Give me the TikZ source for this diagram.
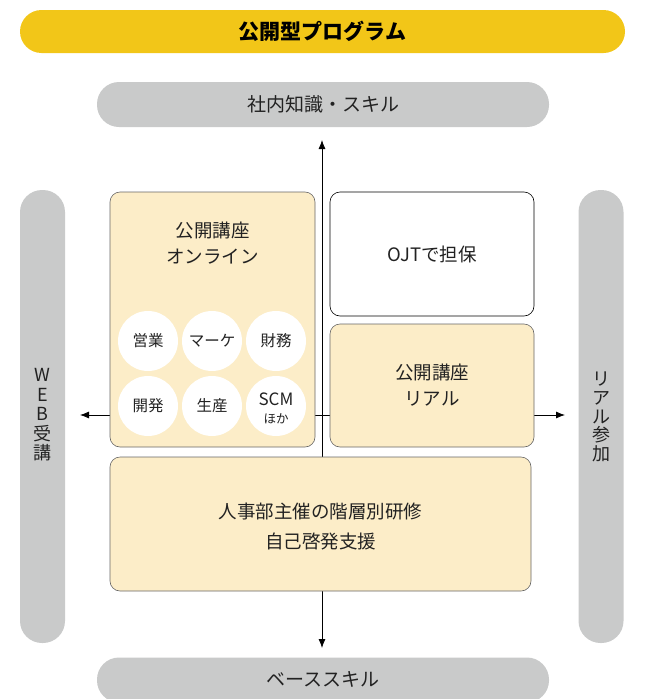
\documentclass[tikz,border=0pt]{standalone}
\usepackage{fontspec}
\setmainfont{Noto Sans CJK JP}
\usetikzlibrary{arrows.meta}
\definecolor{banner}{HTML}{F2C618}
\definecolor{pill}{HTML}{C9CACA}
\definecolor{cream}{HTML}{FCEDC8}
\definecolor{ink}{HTML}{222222}
\tikzset{
  pillbox/.style={fill=pill, draw=none, rounded corners=22pt, text=ink, font=\fontsize{19}{22}\selectfont},
  bar/.style={fill=pill, draw=none, rounded corners=22pt, minimum width=45pt, minimum height=453pt},
  panel/.style={draw=black!60, line width=0.6pt, rounded corners=10pt, text=ink, align=center, font=\fontsize{18.5}{26}\selectfont},
  chip/.style={circle, fill=white, draw=none, minimum size=60pt, inner sep=0pt, text=ink, align=center, font=\fontsize{15.5}{18}\selectfont},
  axis/.style={draw=black, line width=0.8pt, -{Latex[length=9pt,width=7pt]}},
  vlabel/.style={text=ink, align=center, inner sep=0pt, font=\fontsize{18}{19.5}\selectfont}
}
\begin{document}
\begin{tikzpicture}[x=1pt,y=-1pt]
\useasboundingbox (0,0) rectangle (672,699);
% axes
\coordinate (c) at (322,415);
\coordinate (up) at (322,140);
\coordinate (dn) at (322,648);
\coordinate (lt) at (80,415);
\coordinate (rt) at (565,415);
\draw[axis] (c) -- (up);
\draw[axis] (c) -- (dn);
\draw[axis] (c) -- (lt);
\draw[axis] (c) -- (rt);
% banner and pills
\node[fill=banner, draw=none, rounded corners=21.5pt, minimum width=605pt, minimum height=43pt, text=black, font=\fontsize{21}{24}\selectfont\bfseries] (title) at (322.5,31.5) {公開型プログラム};
\node[pillbox, minimum width=452pt, minimum height=45pt] (top) at (323,104.5) {社内知識・スキル};
\node[pillbox, minimum width=452pt, minimum height=45pt] (bottom) at (323,680) {};
\node[text=ink, font=\fontsize{19}{22}\selectfont] (bottomtxt) at (323,679) {ベーススキル};
\node[bar] (left) at (42.5,416.5) {};
\node[bar] (right) at (601,416.5) {};
\node[vlabel] (lefttxt) at (42.5,415) {W\\E\\B\\受\\講};
\node[vlabel, font=\fontsize{18}{18.8}\selectfont] (righttxt) at (601,417) {リ\\ア\\ル\\参\\加};
% panels
\node[panel, fill=cream, minimum width=205pt, minimum height=255pt] (online) at (212.5,319.5) {};
\node[text=ink, align=center, font=\fontsize{18.5}{26}\selectfont] (onlinetxt) at (212.5,243) {公開講座\\オンライン};
\node[panel, fill=white, draw=black, minimum width=204pt, minimum height=124pt] (ojt) at (432,254) {OJTで担保};
\node[panel, fill=cream, minimum width=204pt, minimum height=123pt] (real) at (432,385.5) {公開講座\\リアル};
\node[panel, fill=cream, minimum width=421pt, minimum height=134pt] (base) at (320.5,524) {};
\node[text=ink, align=center, font=\fontsize{18.5}{29}\selectfont] (basetxt) at (320.5,526.5) {人事部主催の階層別研修\\自己啓発支援};
% chips
\node[chip] (c1) at (148,341) {営業};
\node[chip] (c2) at (212,341) {マーケ};
\node[chip] (c3) at (276,341) {財務};
\node[chip] (c4) at (148,406) {開発};
\node[chip] (c5) at (212,406) {生産};
\node[chip] (c6) at (276,406) {};
\node[text=ink, align=center, inner sep=0pt, font=\fontsize{17}{18}\selectfont] (c6txt) at (276,408) {SCM\\{\fontsize{12.5}{14}\selectfont ほか}};
\end{tikzpicture}
\end{document}
